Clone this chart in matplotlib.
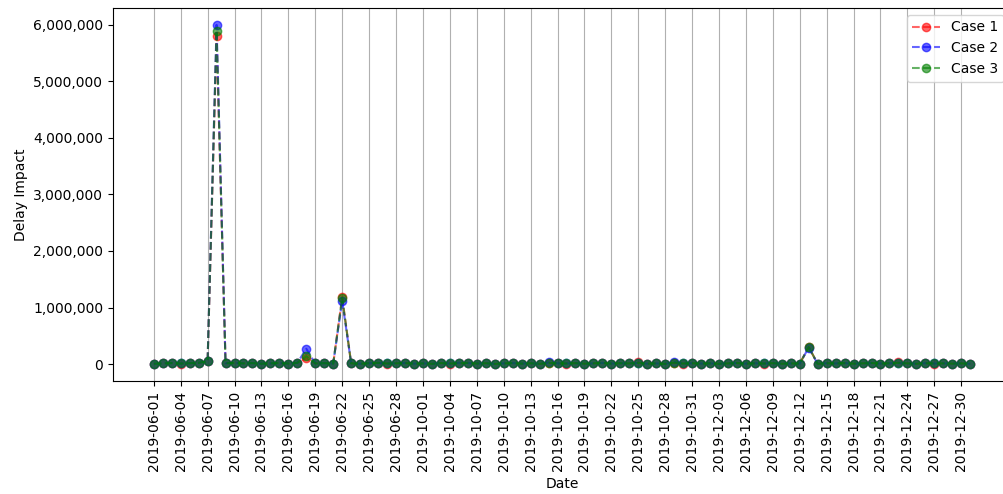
import matplotlib
matplotlib.use("Agg")
import matplotlib.pyplot as plt
from matplotlib.ticker import FuncFormatter

dates = ["2019-06-%02d" % d for d in range(1, 31)] + \
        ["2019-10-%02d" % d for d in range(1, 32)] + \
        ["2019-12-%02d" % d for d in range(1, 32)]

# delay impact per day, one list per case
case1 = [5000, 12000, 18000, 9000, 15000, 22000, 48000, 5800000, 14000, 20000,
         11000, 17000, 6000, 13000, 19000, 8000, 21000, 100000, 10000, 16000,
         7000, 1180000, 12000, 4000, 15000, 21000, 9000, 13000, 18000, 6000,
         # october
         11000, 4000, 17000, 9000, 13000, 20000, 8000, 15000, 2000, 11000,
         18000, 7000, 14000, 3000, 19000, 12000, 9000, 16000, 6000, 13000,
         20000, 8000, 15000, 11000, 30000, 5000, 12000, 2000, 18000, 9000,
         15000,
         # december
         7000, 13000, 4000, 11000, 18000, 6000, 14000, 9000, 16000, 5000,
         12000, 8000, 300000, 3000, 15000, 10000, 17000, 6000, 13000, 19000,
         8000, 14000, 30000, 11000, 5000, 16000, 9000, 13000, 7000, 12000,
         4000]

case2 = [6000, 11000, 17000, 10000, 14000, 21000, 50000, 6000000, 15000, 19000,
         12000, 16000, 7000, 12000, 18000, 9000, 20000, 270000, 11000, 15000,
         8000, 1120000, 13000, 5000, 14000, 20000, 10000, 12000, 17000, 7000,
         # october
         12000, 5000, 16000, 10000, 22000, 19000, 9000, 14000, 3000, 12000,
         17000, 8000, 13000, 4000, 28000, 13000, 10000, 15000, 7000, 12000,
         19000, 9000, 14000, 12000, 18000, 6000, 11000, 3000, 35000, 10000,
         14000,
         # december
         8000, 12000, 5000, 12000, 17000, 7000, 13000, 10000, 15000, 6000,
         11000, 9000, 290000, 4000, 14000, 11000, 16000, 7000, 12000, 18000,
         9000, 13000, 18000, 12000, 6000, 15000, 10000, 12000, 8000, 11000,
         5000]

case3 = [5500, 11500, 17500, 9500, 14500, 21500, 49000, 5890000, 14500, 19500,
         11500, 16500, 6500, 12500, 18500, 8500, 20500, 140000, 10500, 15500,
         7500, 1170000, 12500, 4500, 14500, 20500, 9500, 12500, 17500, 6500,
         # october
         11500, 4500, 16500, 9500, 13500, 19500, 8500, 14500, 2500, 11500,
         17500, 7500, 13500, 3500, 18500, 12500, 9500, 15500, 6500, 12500,
         19500, 8500, 14500, 11500, 20000, 5500, 11500, 2500, 25000, 9500,
         14500,
         # december
         7500, 12500, 4500, 11500, 17500, 6500, 13500, 9500, 15500, 5500,
         11500, 8500, 300000, 3500, 14500, 10500, 16500, 6500, 12500, 18500,
         8500, 13500, 20000, 11500, 5500, 15500, 9500, 12500, 7500, 11500,
         4500]

x = list(range(len(dates)))

fig, ax = plt.subplots(figsize=(10.04, 4.94), dpi=100)
ax.plot(x, case1, "r--o", alpha=0.6, label="Case 1")
ax.plot(x, case2, "b--o", alpha=0.6, label="Case 2")
ax.plot(x, case3, "g--o", alpha=0.6, label="Case 3")

ax.set_xticks(x[::3])
ax.set_xticklabels(dates[::3], rotation=90)
ax.yaxis.set_major_formatter(FuncFormatter(lambda v, p: "{:,.0f}".format(v)))
ax.grid(axis="x")
ax.set_xlabel("Date")
ax.set_ylabel("Delay Impact")
ax.legend(loc="upper right")

# axes runs slightly past the right edge of the canvas
plt.subplots_adjust(left=0.1125, right=1.007, top=0.984, bottom=0.229)
plt.savefig("out.png")
